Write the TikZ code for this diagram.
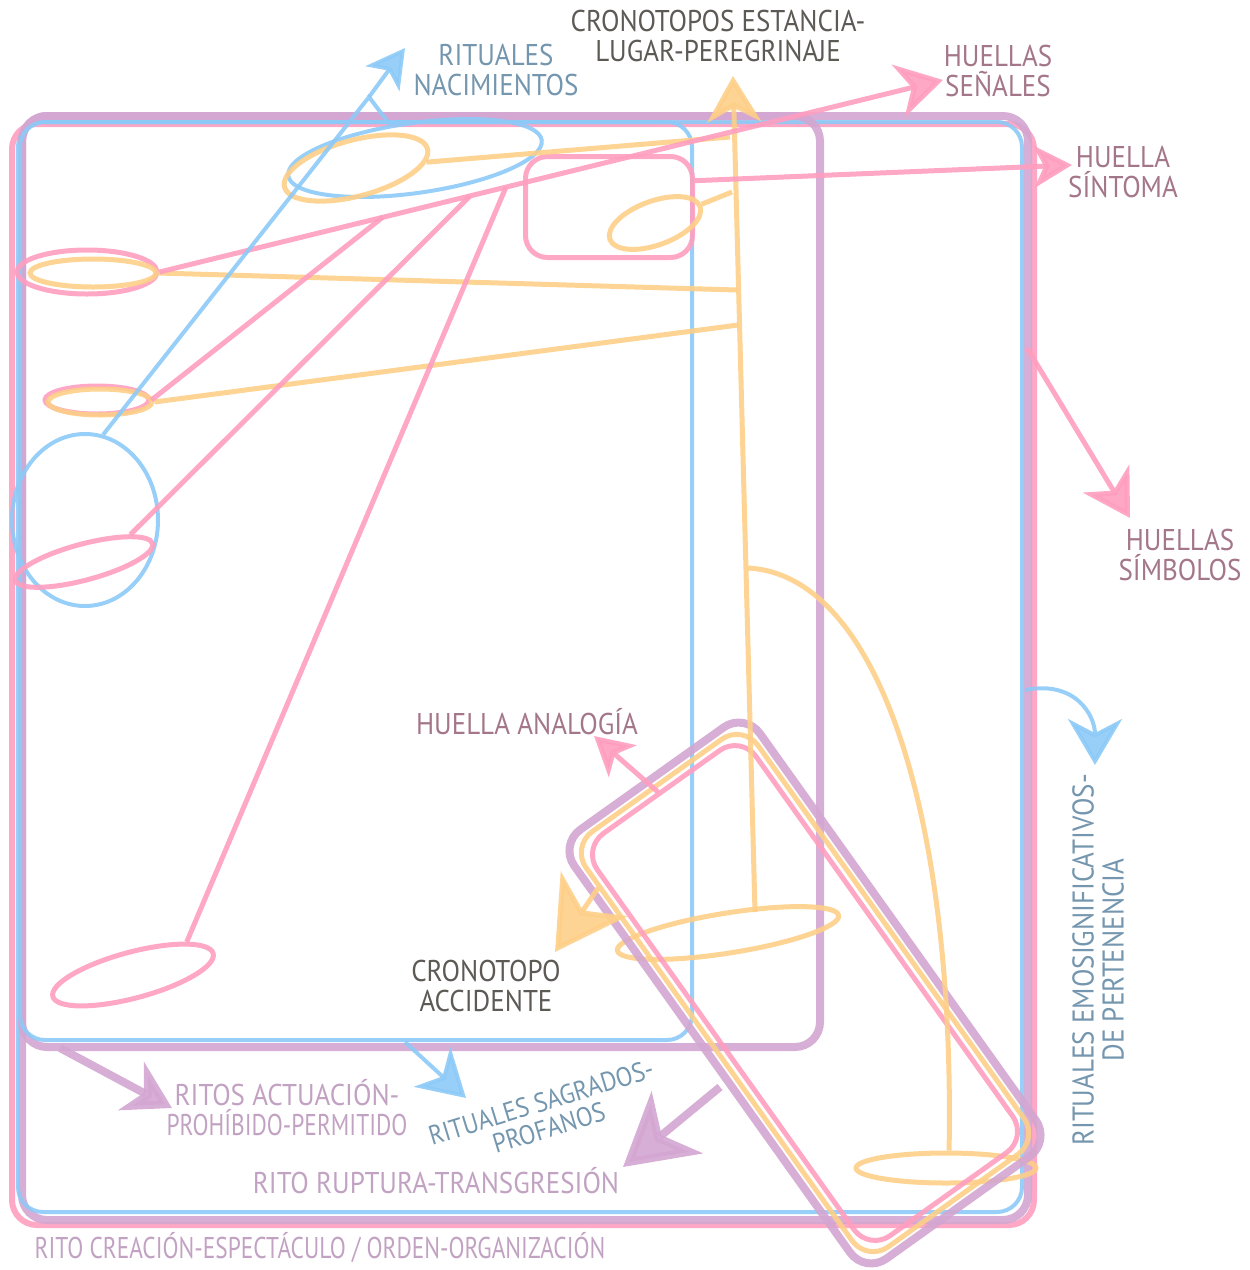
\documentclass[tikz,border=0pt]{standalone}
\usepackage{fontspec}
\setmainfont[FakeStretch=0.9]{PT Sans}
\newfontfamily\narrowfont[FakeStretch=0.78]{PT Sans}
\usetikzlibrary{arrows.meta,shapes.geometric}
\definecolor{pinkc}{HTML}{FF9EC0}
\definecolor{purplec}{HTML}{D3A6D1}
\definecolor{bluec}{HTML}{8DCAF7}
\definecolor{orangec}{HTML}{FDCF88}
\definecolor{ritualc}{HTML}{7496AE}
\definecolor{cronoc}{HTML}{5D5A56}
\definecolor{huellac}{HTML}{A47689}
\definecolor{ritoc}{HTML}{C2A2C2}

\begin{document}
\begin{tikzpicture}[x=1pt,y=-1pt,
  pinkline/.style={draw=pinkc,line width=5pt,opacity=.9},
  purpleline/.style={draw=purplec,line width=8pt,opacity=.9},
  blueline/.style={draw=bluec,line width=4pt,opacity=.9},
  orangeline/.style={draw=orangec,line width=5pt,opacity=.9},
  bigtip/.style={-{Stealth[length=46pt,width=54pt,inset=14pt]}},
  hugetip/.style={-{Stealth[length=70pt,width=80pt,inset=20pt]}},
  midtip/.style={-{Stealth[length=38pt,width=42pt,inset=10pt]}},
  oval/.style={ellipse,inner sep=0pt},
  tilt/.style={rectangle,inner sep=0pt,rounded corners=26pt,rotate=-54.5},
  lbl/.style={font=\fontsize{30}{30}\selectfont,align=center,inner sep=0pt}]
\useasboundingbox (0,0) rectangle (1250,1270);

% frames
\draw[pinkline,line width=6pt,rounded corners=25pt] (12,124) rectangle (1034,1225);
\draw[purpleline,rounded corners=25pt] (22,116) rectangle (1028,1220);
\draw[blueline,rounded corners=25pt] (18,122) rectangle (1022,1212);
\draw[purpleline,rounded corners=25pt] (22,116) rectangle (820,1047);
\draw[blueline,rounded corners=25pt] (20,122) rectangle (692,1040);
\node[pinkline,rectangle,rounded corners=22pt,minimum width=167pt,minimum height=101pt] (boxSintoma) at (609,207) {};

% ovals
\node[oval,blueline,minimum width=256pt,minimum height=70pt,rotate=8] (ovBlueTop) at (415,158) {};
\node[oval,orangeline,minimum width=148pt,minimum height=56pt,rotate=15] (ovOrTop) at (356,168) {};
\node[oval,orangeline,minimum width=96pt,minimum height=44pt,rotate=20] (ovOrSmall) at (655,223) {};
\node[oval,pinkline,minimum width=140pt,minimum height=44pt] (ovPinkA) at (87,272) {};
\node[oval,orangeline,minimum width=126pt,minimum height=28pt] (ovOrA) at (93,273) {};
\node[oval,pinkline,minimum width=104pt,minimum height=28pt] (ovPinkB) at (97,400) {};
\node[oval,orangeline,minimum width=104pt,minimum height=26pt] (ovOrB) at (100,402) {};
\node[oval,blueline,minimum width=146pt,minimum height=172pt] (ovBlueL) at (85,520) {};
\node[oval,pinkline,minimum width=142pt,minimum height=36pt,rotate=15] (ovPinkC) at (84,562) {};
\node[oval,pinkline,minimum width=166pt,minimum height=46pt,rotate=15] (ovPinkD) at (133,975) {};
\node[oval,orangeline,minimum width=224pt,minimum height=40pt,rotate=9] (ovOrMid) at (728,933) {};
\node[oval,orangeline,minimum width=180pt,minimum height=30pt] (ovOrLow) at (946,1168) {};

% tilted boxes
\node[tilt,purpleline,minimum width=527pt,minimum height=228pt] (tiltP) at (805,993) {};
\node[tilt,orangeline,minimum width=510pt,minimum height=211pt] (tiltO) at (805,993) {};
\node[tilt,pinkline,minimum width=494pt,minimum height=195pt] (tiltK) at (805,993) {};

% points
\coordinate (tipCrono) at (733,76);
\coordinate (spineFoot) at (755,912);
\coordinate (brA) at (737,290);
\coordinate (brB) at (738,325);
\coordinate (brC) at (732,192);
\coordinate (brD) at (748,568);
\coordinate (orTopEnd) at (730,137);
\coordinate (tipSenales) at (943,80);
\coordinate (jB) at (383,217);
\coordinate (jC) at (470,196);
\coordinate (jD) at (506,187);
\coordinate (tipSintoma) at (1072,165);
\coordinate (symStart) at (1027,348);
\coordinate (tipSimbolos) at (1130,518);
\coordinate (anaStart) at (658,792);
\coordinate (tipAnalogia) at (594,736);
\coordinate (apexNac) at (369,97);
\coordinate (tipNac) at (405,48);
\coordinate (sagStart) at (405,1042);
\coordinate (tipSagrados) at (466,1098);
\coordinate (perStart) at (1025,690);
\coordinate (tipPertenencia) at (1095,765);
\coordinate (actStart) at (60,1048);
\coordinate (tipActuacion) at (172,1108);
\coordinate (rupStart) at (720,1087);
\coordinate (tipRuptura) at (623,1167);
\coordinate (accStart) at (598,888);
\coordinate (tipAccidente) at (555,952);

% orange
\draw[orangeline,bigtip] (spineFoot) -- (tipCrono);
\draw[orangeline] (ovOrA.east) -- (brA);
\draw[orangeline] (ovOrB.east) -- (brB);
\draw[orangeline] (ovOrSmall) -- (brC);
\draw[orangeline] (ovOrTop) -- (orTopEnd);
\draw[orangeline] (brD) .. controls (880,575) and (955,820) .. (ovOrLow.80);
\draw[orangeline,hugetip] (accStart) -- (tipAccidente);

% pink
\draw[pinkline,bigtip] (ovPinkA.east) -- (tipSenales);
\draw[pinkline] (jB) -- (ovPinkB.east);
\draw[pinkline] (jC) -- (ovPinkC.north east);
\draw[pinkline] (jD) -- (ovPinkD.north east);
\draw[pinkline,midtip] (boxSintoma.17) -- (tipSintoma);
\draw[pinkline,bigtip] (symStart) -- (tipSimbolos);
\draw[pinkline,midtip] (anaStart) -- (tipAnalogia);

% blue
\draw[blueline] (ovBlueL.78) -- (apexNac) -- (ovBlueTop);
\draw[blueline,midtip] (apexNac) -- (tipNac);
\draw[blueline,bigtip] (sagStart) -- (tipSagrados);
\draw[blueline,bigtip] (perStart) .. controls (1075,680) and (1095,715) .. (tipPertenencia);

% purple
\draw[purpleline,bigtip] (actStart) -- (tipActuacion);
\draw[purpleline,hugetip] (rupStart) -- (tipRuptura);

% labels
\node[lbl,text=ritualc] (lblNacimientos) at (496,70) {RITUALES\\NACIMIENTOS};
\node[lbl,text=cronoc] (lblEstancia) at (718,36) {CRONOTOPOS ESTANCIA-\\LUGAR-PEREGRINAJE};
\node[lbl,text=huellac] (lblSenales) at (998,71) {HUELLAS\\SEÑALES};
\node[lbl,text=huellac] (lblSintoma) at (1123,172) {HUELLA\\SÍNTOMA};
\node[lbl,text=huellac] (lblSimbolos) at (1180,555) {HUELLAS\\SÍMBOLOS};
\node[lbl,text=huellac] (lblAnalogia) at (527,722) {HUELLA ANALOGÍA};
\node[lbl,text=cronoc] (lblAccidente) at (486,986) {CRONOTOPO\\ACCIDENTE};
\node[lbl,text=ritoc] (lblActuacion) at (287,1108) {RITOS ACTUACIÓN-\\{\narrowfont PROHÍBIDO-PERMITIDO}};
\node[lbl,text=ritualc,rotate=17,font=\fontsize{27}{27}\selectfont] (lblSagrados) at (545,1115) {RITUALES SAGRADOS-\\PROFANOS};
\node[lbl,text=ritoc] (lblRuptura) at (436,1181) {RITO RUPTURA-TRANSGRESIÓN};
\node[lbl,text=ritoc,font=\fontsize{30}{30}\narrowfont] (lblCreacion) at (320,1248) {RITO CREACIÓN-ESPECTÁCULO / ORDEN-ORGANIZACIÓN};
\node[lbl,text=ritualc,rotate=90] (lblPertenencia) at (1098,960) {RITUALES EMOSIGNIFICATIVOS-\\DE PERTENENCIA};
\end{tikzpicture}
\end{document}
